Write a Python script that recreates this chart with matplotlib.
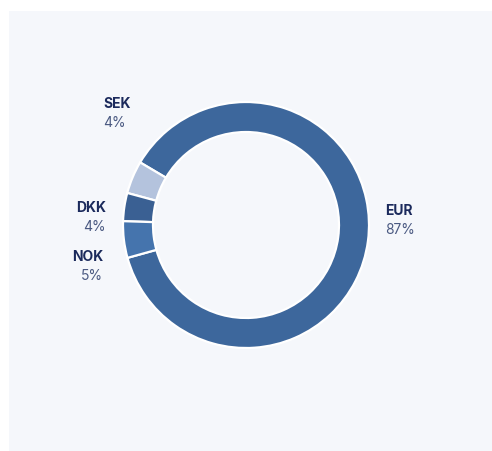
import matplotlib.pyplot as plt
from matplotlib.patches import Rectangle

# currency split
currencies = ["EUR", "SEK", "DKK", "NOK"]
shares = [87.2, 4.3, 3.7, 4.8]
pct_labels = ["87%", "4%", "4%", "5%"]
colors = ["#3d679c", "#b4c3dd", "#3a6093", "#4574ad"]

# label anchors in pixels (x, y of name line, alignment)
label_pos = {
    "EUR": (385, 211, "left"),
    "SEK": (103, 104, "left"),
    "DKK": (106, 208, "right"),
    "NOK": (103, 257, "right"),
}

W, H = 492, 451
plt.rcParams["font.family"] = ["Inter", "DejaVu Sans"]

fig = plt.figure(figsize=(W / 100, H / 100), dpi=100)
fig.patch.set_facecolor("white")
fig.patches.append(Rectangle((9 / W, 0), (W - 9) / W, (H - 11) / H,
                             transform=fig.transFigure, facecolor="#f5f7fb",
                             edgecolor="none", zorder=-5))

# donut: centre (246, 225) px, outer radius 123 px
cx, cy, R = 246, 225, 123
ax = fig.add_axes([(cx - R) / W, (H - cy - R) / H, 2 * R / W, 2 * R / H])
ax.set_zorder(2)
ax.pie(shares, colors=colors, startangle=195.5, counterclock=True,
       wedgeprops=dict(width=0.244, edgecolor="white", linewidth=1.6))
ax.set_xlim(-1, 1)
ax.set_ylim(-1, 1)
ax.set_aspect("equal")
ax.axis("off")

for name, pct in zip(currencies, pct_labels):
    x, y, ha = label_pos[name]
    fig.text(x / W, 1 - y / H, name, ha=ha, va="center", fontsize=10,
             fontweight="bold", color="#1b2a5c")
    fig.text(x / W, 1 - (y + 19) / H, pct, ha=ha, va="center", fontsize=10,
             color="#4b5a82")

fig.savefig("out.png", dpi=100)
